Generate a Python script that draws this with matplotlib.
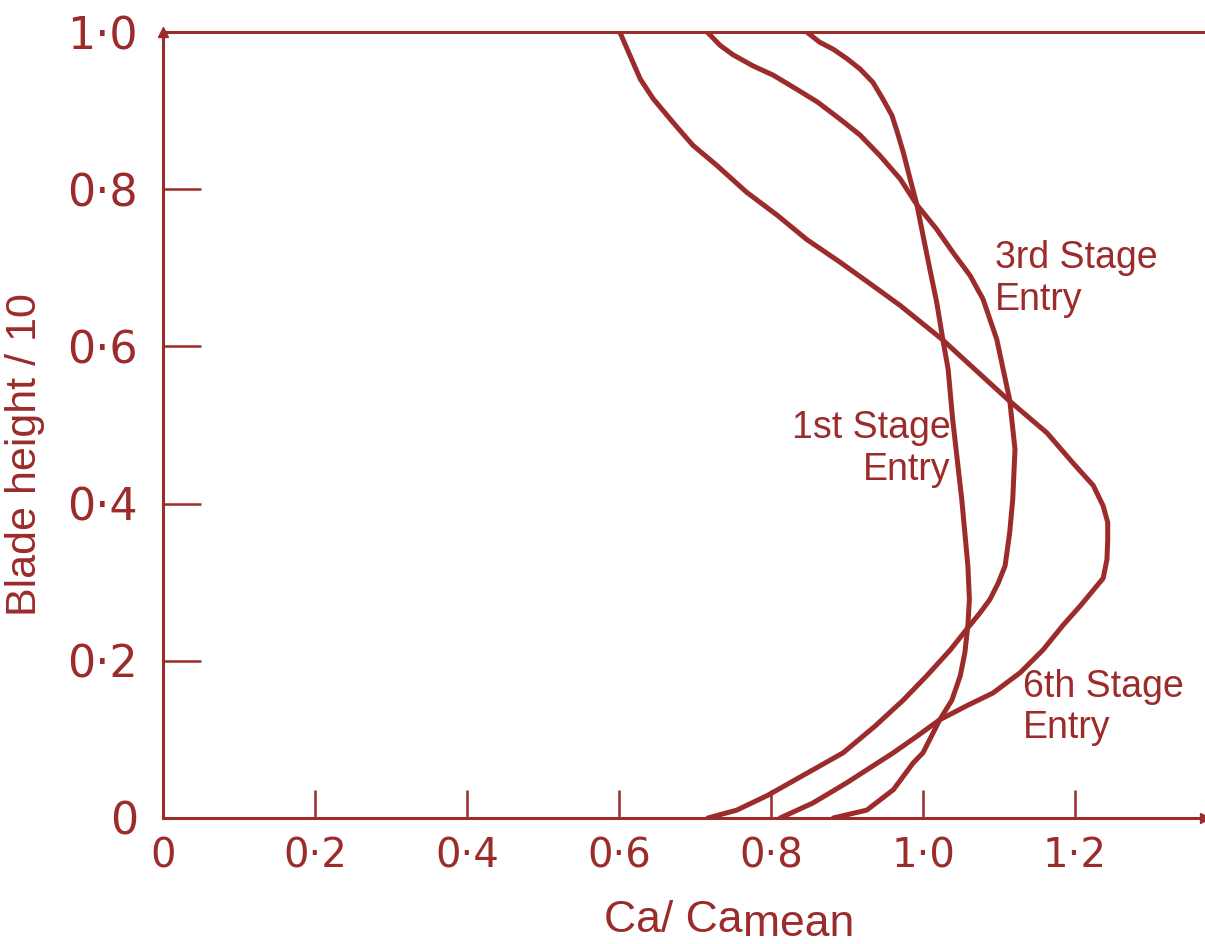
import matplotlib
matplotlib.use('Agg')
import matplotlib.pyplot as plt

# Colour of the ink on the scanned figure
RED = '#9c2b2b'

# Axis tick values and labels
X_TICKS = [0, 0.2, 0.4, 0.6, 0.8, 1.0, 1.2]
X_LABELS = ['0', '0·2', '0·4', '0·6', '0·8', '1·0', '1·2']
Y_TICKS = [0, 0.2, 0.4, 0.6, 0.8, 1.0]
Y_LABELS = ['0', '0·2', '0·4', '0·6', '0·8', '1·0']

# 6th stage entry
sixth_x = [0.601, 0.614, 0.628, 0.645, 0.671, 0.697, 0.729, 0.768, 0.808, 0.847,
           0.891, 0.930, 0.970, 1.025, 1.112, 1.163, 1.197, 1.224, 1.237, 1.243,
           1.243, 1.242, 1.237, 1.207, 1.184, 1.158, 1.128, 1.092, 1.058, 1.022,
           0.992, 0.961, 0.900, 0.855, 0.812]
sixth_y = [1.0, 0.971, 0.940, 0.915, 0.885, 0.856, 0.830, 0.796, 0.767, 0.736,
           0.707, 0.680, 0.652, 0.609, 0.532, 0.490, 0.452, 0.423, 0.397, 0.376,
           0.354, 0.329, 0.305, 0.270, 0.245, 0.214, 0.185, 0.159, 0.143, 0.125,
           0.104, 0.083, 0.045, 0.019, 0.0]

# 3rd stage entry
third_x = [0.716, 0.733, 0.750, 0.776, 0.803, 0.834, 0.861, 0.891, 0.917, 0.943,
           0.970, 0.992, 1.018, 1.039, 1.062, 1.079, 1.097, 1.114, 1.121, 1.118,
           1.114, 1.108, 1.099, 1.088, 1.075, 1.059, 1.036, 1.005, 0.974, 0.937,
           0.895, 0.796, 0.755, 0.717]
third_y = [1.0, 0.983, 0.971, 0.957, 0.945, 0.927, 0.911, 0.889, 0.869, 0.843,
           0.813, 0.780, 0.749, 0.720, 0.690, 0.660, 0.609, 0.532, 0.469, 0.405,
           0.363, 0.321, 0.299, 0.278, 0.261, 0.242, 0.214, 0.181, 0.150, 0.117,
           0.083, 0.029, 0.010, 0.0]

# 1st stage entry
first_x = [0.847, 0.864, 0.882, 0.900, 0.917, 0.934, 0.947, 0.959, 0.966, 0.974,
           0.983, 0.992, 1.000, 1.009, 1.018, 1.026, 1.033, 1.039, 1.045, 1.051,
           1.055, 1.059, 1.061, 1.059, 1.055, 1.049, 1.038, 1.022, 1.000, 0.987,
           0.961, 0.926, 0.882]
first_y = [1.0, 0.987, 0.978, 0.966, 0.953, 0.936, 0.915, 0.894, 0.873, 0.847,
           0.813, 0.780, 0.741, 0.698, 0.656, 0.609, 0.571, 0.507, 0.456, 0.405,
           0.363, 0.321, 0.278, 0.245, 0.210, 0.181, 0.150, 0.125, 0.083, 0.070,
           0.036, 0.010, 0.0]

fig = plt.figure(figsize=(12.05, 9.44), dpi=100)
ax = fig.add_axes([0.1353, 0.1335, 0.8647, 0.8326])

for xs, ys in [(sixth_x, sixth_y), (third_x, third_y), (first_x, first_y)]:
    ax.plot(xs, ys, color=RED, lw=3.6, solid_joinstyle='round', solid_capstyle='round')

ax.set_xlim(0, 1.371)
ax.set_ylim(0, 1.0)

# spines: left, bottom and the top line at 1.0
ax.spines['right'].set_visible(False)
for s in ['left', 'bottom', 'top']:
    ax.spines[s].set_color(RED)
    ax.spines[s].set_linewidth(2.2)

# small arrow heads at the axis ends
ax.plot([0], [1.0], marker='^', ms=7, color=RED, clip_on=False)
ax.plot([1.371], [0], marker='>', ms=7, color=RED, clip_on=False)

ax.set_xticks(X_TICKS)
ax.set_xticklabels(X_LABELS)
ax.set_yticks(Y_TICKS)
ax.set_yticklabels(Y_LABELS)
ax.tick_params(axis='x', direction='in', length=20, width=1.8, color=RED,
               labelcolor=RED, labelsize=29, pad=13, top=False)
ax.tick_params(axis='y', direction='in', length=27, width=1.8, color=RED,
               labelcolor=RED, labelsize=32, pad=18, right=False)

# curve labels
txt = dict(color=RED, fontsize=27, family='Liberation Sans', linespacing=1.2, va='top')
ax.text(1.095, 0.735, '3rd Stage\nEntry', ha='left', **txt)
ax.text(1.036, 0.519, '1st Stage\nEntry', ha='right', multialignment='right', **txt)
ax.text(1.132, 0.190, '6th Stage\nEntry', ha='left', **txt)

ax.set_ylabel('Blade height / 10', color=RED, fontsize=31, family='Liberation Sans')
ax.yaxis.set_label_coords(-0.113, 0.462)
ax.set_xlabel('Ca/ Ca', color=RED, fontsize=32, family='Liberation Sans')
ax.xaxis.set_label_coords(0.49, -0.104)
# "mean" sits slightly below the baseline of the x label
ax.annotate('mean', xy=(1, 0), xycoords=ax.xaxis.label, xytext=(0, -3),
            textcoords='offset points', ha='left', va='bottom', color=RED,
            fontsize=32, family='Liberation Sans', annotation_clip=False)

fig.savefig('out.png', dpi=100)
